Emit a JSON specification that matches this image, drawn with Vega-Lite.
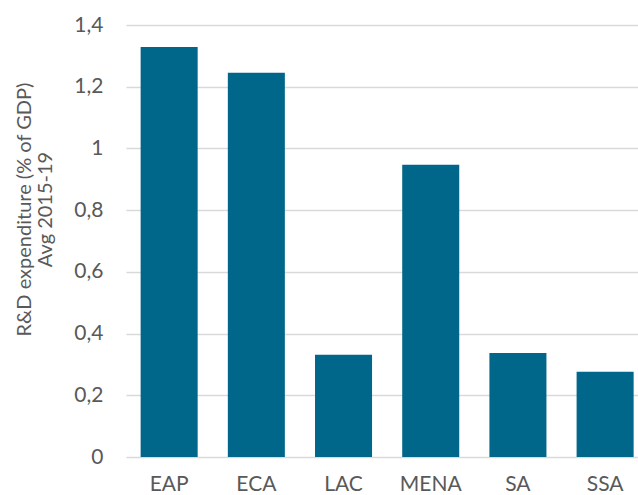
{
  "$schema": "https://vega.github.io/schema/vega-lite/v6.json",
  "autosize": "none",
  "width": 512,
  "height": 432,
  "padding": {"left": 126, "top": 25, "right": 0, "bottom": 38},
  "background": "white",
  "config": {
    "view": {"stroke": null},
    "font": "Lato",
    "axis": {"labelFont": "Lato", "titleFont": "Lato", "labelColor": "#595959", "titleColor": "#595959"}
  },
  "data": {"values": [
    {"region": "EAP", "value": 1.329},
    {"region": "ECA", "value": 1.245},
    {"region": "LAC", "value": 0.331},
    {"region": "MENA", "value": 0.947},
    {"region": "SA", "value": 0.337},
    {"region": "SSA", "value": 0.276}
  ]},
  "mark": {"type": "bar", "color": "#00668A"},
  "encoding": {
    "x": {
      "field": "region", "type": "nominal", "sort": null,
      "scale": {"paddingInner": 0.346, "paddingOuter": 0.109, "align": 0.77},
      "axis": {"title": null, "labelAngle": 0, "labelFontSize": 21, "labelPadding": 16, "ticks": false, "domain": false, "grid": false}
    },
    "y": {
      "field": "value", "type": "quantitative",
      "scale": {"domain": [0, 1.4], "nice": false},
      "axis": {
        "title": ["R&D expenditure (% of GDP)", "Avg 2015-19"],
        "titleFontSize": 20, "titleFontWeight": "normal", "titleLineHeight": 21,
        "titleX": -102, "titleY": 184, "titleAngle": -90, "titleAlign": "center", "titleBaseline": "middle",
        "values": [0, 0.2, 0.4, 0.6, 0.8, 1, 1.2, 1.4],
        "labelExpr": "replace(format(datum.value, '~g'), '.', ',')",
        "labelFontSize": 21, "labelPadding": 23,
        "ticks": false, "domain": false,
        "grid": true, "gridColor": "#D9D9D9", "gridWidth": 1.3
      }
    }
  }
}
